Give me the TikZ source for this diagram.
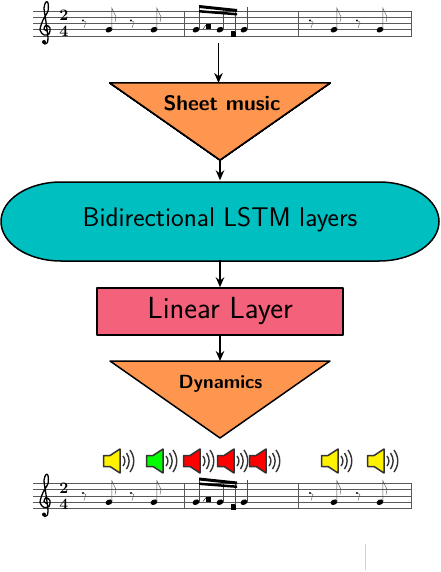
\documentclass[tikz,border=0pt]{standalone}
\usepackage{tikz}
\usetikzlibrary{arrows.meta}
\definecolor{flowtan}{RGB}{255,150,80}
\definecolor{flowteal}{RGB}{0,191,193}
\definecolor{flowpink}{RGB}{243,97,122}
\newcommand{\scorestaff}[1]{%
  \begin{scope}[shift={(0,#1)}]
    \foreach \ypos in {11,17.2,23.5,29.7,36}
      \draw[staffline] (33,\ypos) -- (412,\ypos);
    \foreach \xpos in {184,298,411}
      \draw[staffline] (\xpos,11) -- (\xpos,36);
    \draw[line width=1.3pt] plot[smooth] coordinates {(47,31)(44,29)(46,25)(50,28)(49,34)(44,35)(40,30)(43,20)(48,11)(48,3)(46,2)(44,8)(46,22)(48,38)(47,43)(44,44)};
    \fill (44,42) circle (2);
    \node[timesig] (two#1) at (64,15.5) {2};
    \node[timesig] (four#1) at (64,31.5) {4};
    \foreach \xpos in {83,131,310,357} {
      \fill (\xpos,20.5) circle (1.2);
      \draw[thin, gray!60!black] (\xpos,20.5) -- (\xpos+3,22) -- (\xpos+1,28);
    }
    \foreach \xpos in {109,154,334,380} {
      \fill[rotate around={25:(\xpos,29.7)}] (\xpos,29.7) ellipse (3.6 and 2.6);
      \draw[thin, gray!60!black] (\xpos+2.8,29) -- (\xpos+2.8,8) -- (\xpos+7,17) -- (\xpos+6,22);
    }
    \foreach \xpos in {196,220,244}
      \fill[rotate around={25:(\xpos,29.7)}] (\xpos,29.7) ellipse (3.6 and 2.6);
    \fill (206,24) rectangle (211,29);
    \fill (231,31) rectangle (235.5,37);
    \draw[thin, gray!60!black] (199,29) -- (199,6);
    \draw[thin, gray!60!black] (223,29) -- (223,8);
    \draw[thin, gray!60!black] (235.5,32) -- (235.5,10);
    \draw[thin, gray!60!black] (247,29) -- (247,7);
    \draw[thin] (206,25) -- (203,29);
    \fill (199,5) -- (237,9) -- (237,12) -- (199,8) -- cycle;
    \fill (199,10) -- (237,13) -- (237,15.5) -- (199,12.5) -- cycle;
  \end{scope}}
\newcommand{\speakericon}[2]{%
  \begin{scope}[shift={(#1,461)}]
    \draw[line width=1.5pt, draw=black!80, fill=#2, line join=round] (0.5,-5.5) -- (7,-5.5) -- (17,-12) -- (17,12) -- (7,5.5) -- (0.5,5.5) -- cycle;
    \draw[line width=1.4pt, black!80] (20,-5) .. controls (22.5,-2) and (22.5,2) .. (20,5);
    \draw[line width=1.4pt, black!80] (23.5,-8) .. controls (27,-3) and (27,3) .. (23.5,8);
    \draw[line width=1.4pt, black!80] (27,-11) .. controls (32,-4) and (32,4) .. (27,11);
  \end{scope}}

\begin{document}
\begin{tikzpicture}[x=1pt, y=-1pt,
        staffline/.style={gray!70!black, line width=0.7pt},
        timesig/.style={font=\fontsize{16}{16}\selectfont\bfseries, inner sep=0pt},
        flowshape/.style={draw=black, line width=1.5pt, line join=round},
        flowlink/.style={-{Stealth[length=10pt, width=8.5pt]}, line width=1.5pt},
        tlabel/.style={inner sep=0pt}]
        \useasboundingbox (0,0) rectangle (440,572);
        % scores
        \scorestaff{0}
        \scorestaff{472.5}
        \foreach \xpos/\tone in {103/yellow, 146/green, 183/red, 217/red, 249/red, 321/yellow, 367/yellow}
          \speakericon{\xpos}{\tone}
        % network
        \draw[flowshape, fill=flowtan] (110,83) -- (330,83) -- (220,160) -- cycle;
        \draw[flowshape, fill=flowteal] (61,182) -- (379,182) arc[x radius=60, y radius=39.5, start angle=-90, end angle=90] -- (61,261) arc[x radius=60, y radius=39.5, start angle=90, end angle=270] -- cycle;
        \draw[flowshape, fill=flowtan] (110,361) -- (330,361) -- (220,438) -- cycle;
        \coordinate (scorebot) at (218.5,43);
        \coordinate (sheettop) at (218.5,83);
        \coordinate (sheetbot) at (220,160);
        \coordinate (dyntop) at (220,361);
        \node[tlabel, font=\fontsize{21}{21}\selectfont\sffamily\bfseries] (sheet) at (222,103) {Sheet music};
        \node[inner sep=0pt, minimum width=438pt, minimum height=79pt, font=\fontsize{27}{27}\selectfont\sffamily] (lstm) at (220,220) {Bidirectional LSTM layers};
        \node[flowshape, fill=flowpink, inner sep=0pt, minimum width=246pt, minimum height=47pt, font=\fontsize{30.5}{30.5}\selectfont\sffamily] (linear) at (220,311.5) {Linear Layer};
        \node[tlabel, font=\fontsize{19}{19}\selectfont\sffamily\bfseries] (dynamics) at (220.5,384) {Dynamics};
        \draw[flowlink, line width=1.9pt] (scorebot) -- (sheettop);
        \draw[flowlink] (sheetbot) -- (lstm.north);
        \draw[flowlink] (lstm.south) -- (linear.north);
        \draw[flowlink] (linear.south) -- (dyntop);
        % faint mark
        \draw[gray!35, line width=0.6pt] (365,544) -- (365,570);
      \end{tikzpicture}
\end{document}
